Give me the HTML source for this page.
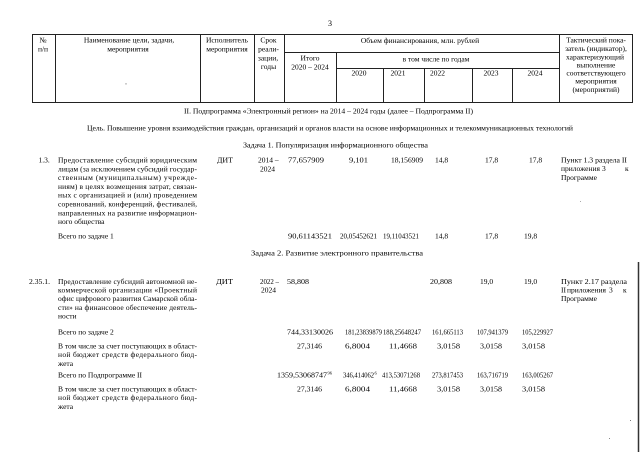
<!DOCTYPE html>
<html>
<head>
<meta charset="utf-8">
<style>
  html, body { margin:0; padding:0; background:#fff; }
  svg { display:block; }
  text { font-family: "Liberation Serif", "Noto Serif CJK SC", serif; }
</style>
</head>
<body>
<svg width="640" height="452" viewBox="0 0 640 452" xmlns="http://www.w3.org/2000/svg" font-size="7.5" fill="#000">
  <rect x="0" y="0" width="640" height="452" fill="#fff"/>

  <!-- page number -->
  <text x="330" y="26" font-size="8" text-anchor="middle">3</text>

  <!-- table header grid -->
  <g stroke="#222" stroke-width="1" fill="none" shape-rendering="crispEdges">
    <rect x="32.5" y="34.5" width="600" height="68"/>
    <line x1="55.5" y1="34.5" x2="55.5" y2="102.5"/>
    <line x1="200.5" y1="34.5" x2="200.5" y2="102.5"/>
    <line x1="254.5" y1="34.5" x2="254.5" y2="102.5"/>
    <line x1="284.5" y1="34.5" x2="284.5" y2="102.5"/>
    <line x1="559.5" y1="34.5" x2="559.5" y2="102.5"/>
    <line x1="284.5" y1="52.5" x2="559.5" y2="52.5"/>
    <line x1="336.5" y1="52.5" x2="336.5" y2="102.5"/>
    <line x1="336.5" y1="68.5" x2="559.5" y2="68.5"/>
    <line x1="383.5" y1="68.5" x2="383.5" y2="102.5"/>
    <line x1="424.5" y1="68.5" x2="424.5" y2="102.5"/>
    <line x1="472.5" y1="68.5" x2="472.5" y2="102.5"/>
    <line x1="512.5" y1="68.5" x2="512.5" y2="102.5"/>
  </g>

  <!-- right scan edge line -->
  <line x1="638.5" y1="262" x2="638.5" y2="452" stroke="#333" stroke-width="1.5"/>

  <!-- header text -->
  <g text-anchor="middle">
    <text x="43" y="42.5">№</text>
    <text x="43" y="51.5">п/п</text>

    <text x="129" y="42.5">Наименование цели, задачи,</text>
    <text x="128" y="51.5">мероприятия</text>

    <text x="227" y="42.5">Исполнитель</text>
    <text x="227" y="51.5">мероприятия</text>

    <text x="268.5" y="42.5">Срок</text>
    <text x="268.5" y="51.5">реали-</text>
    <text x="268" y="60.5">зации,</text>
    <text x="268.5" y="69">годы</text>

    <text x="420" y="43">Объем финансирования, млн. рублей</text>
    <text x="310" y="60.5">Итого</text>
    <text x="310" y="69.5">2020 – 2024</text>
    <text x="436" y="61.5">в том числе по годам</text>

    <text x="359" y="75.5">2020</text>
    <text x="398" y="75.5">2021</text>
    <text x="437.5" y="75.5">2022</text>
    <text x="491" y="75.5">2023</text>
    <text x="535" y="75.5">2024</text>

    <text x="596" y="42.5">Тактический пока-</text>
    <text x="596" y="51.2">затель (индикатор),</text>
    <text x="595" y="59.5">характеризующий</text>
    <text x="596" y="67.5">выполнение</text>
    <text x="596" y="75.5">соответствующего</text>
    <text x="596" y="83.5">мероприятия</text>
    <text x="596" y="92">(мероприятий)</text>
  </g>
  <rect x="125" y="83.5" width="2" height="0.8" fill="#999"/>

  <!-- section titles -->
  <text x="184" y="113.5" textLength="289" lengthAdjust="spacingAndGlyphs">II. Подпрограмма «Электронный регион» на 2014 – 2024 годы (далее – Подпрограмма II)</text>
  <text x="87" y="130.5" textLength="486" lengthAdjust="spacingAndGlyphs">Цель. Повышение уровня взаимодействия граждан, организаций и органов власти на основе информационных и телекоммуникационных технологий</text>
  <text x="243" y="147.5" textLength="185" lengthAdjust="spacingAndGlyphs">Задача 1. Популяризация информационного общества</text>

  <!-- row 1.3 -->
  <text x="38.5" y="162.5">1.3.</text>
  <text x="58" y="162.5" textLength="139">Предоставление субсидий юридическим</text>
  <text x="58" y="171.3" textLength="139">лицам (за исключением субсидий государ-</text>
  <text x="58" y="180.1" textLength="139">ственным (муниципальным) учрежде-</text>
  <text x="58" y="188.9" textLength="139">ниям) в целях возмещения затрат, связан-</text>
  <text x="58" y="197.7" textLength="139">ных с организацией и (или) проведением</text>
  <text x="58" y="206.5" textLength="139">соревнований, конференций, фестивалей,</text>
  <text x="58" y="215.3" textLength="139">направленных на развитие информацион-</text>
  <text x="58" y="224.1">ного общества</text>

  <text x="217" y="162.5" textLength="16" lengthAdjust="spacingAndGlyphs">ДИТ</text>
  <text x="258" y="162.5">2014 –</text>
  <text x="267.5" y="171.3" text-anchor="middle">2024</text>
  <text x="288" y="162.5" textLength="36" lengthAdjust="spacingAndGlyphs">77,657909</text>
  <text x="349" y="162.5" textLength="19" lengthAdjust="spacingAndGlyphs">9,101</text>
  <text x="391" y="162.5" textLength="32" lengthAdjust="spacingAndGlyphs">18,156909</text>
  <text x="435" y="162.5">14,8</text>
  <text x="485" y="162.5">17,8</text>
  <text x="529" y="162.5">17,8</text>
  <text x="561" y="162.5" textLength="66" lengthAdjust="spacingAndGlyphs">Пункт 1.3 раздела II</text>
  <text x="561" y="171.2">приложения</text>
  <text x="602" y="171.2">3</text>
  <text x="625" y="171.2">к</text>
  <text x="561" y="179.9">Программе</text>
  <rect x="580" y="201" width="1" height="1" fill="#aaa"/>

  <!-- total task 1 -->
  <text x="58" y="238.5">Всего по задаче 1</text>
  <text x="288" y="238.5" textLength="44" lengthAdjust="spacingAndGlyphs">90,61143521</text>
  <text x="340" y="238.5" textLength="37" lengthAdjust="spacingAndGlyphs">20,05452621</text>
  <text x="383" y="238.5" textLength="36" lengthAdjust="spacingAndGlyphs">19,11043521</text>
  <text x="435" y="238.5">14,8</text>
  <text x="485" y="238.5">17,8</text>
  <text x="524" y="238.5">19,8</text>

  <text x="251" y="255.5" textLength="172" lengthAdjust="spacingAndGlyphs">Задача 2. Развитие электронного правительства</text>

  <!-- row 2.35.1 -->
  <text x="29" y="284" textLength="21" lengthAdjust="spacingAndGlyphs">2.35.1.</text>
  <text x="58" y="284" textLength="139">Предоставление субсидий автономной не-</text>
  <text x="58" y="292.6" textLength="139">коммерческой организации «Проектный</text>
  <text x="58" y="301.2" textLength="139">офис цифрового развития Самарской обла-</text>
  <text x="58" y="309.8" textLength="139">сти» на финансовое обеспечение деятель-</text>
  <text x="58" y="318.4">ности</text>

  <text x="216" y="284" textLength="17" lengthAdjust="spacingAndGlyphs">ДИТ</text>
  <text x="260" y="284" textLength="19" lengthAdjust="spacingAndGlyphs">2022 –</text>
  <text x="268.5" y="292.6" text-anchor="middle">2024</text>
  <text x="287" y="284" textLength="22" lengthAdjust="spacingAndGlyphs">58,808</text>
  <text x="430" y="284" textLength="22" lengthAdjust="spacingAndGlyphs">20,808</text>
  <text x="480" y="284">19,0</text>
  <text x="524" y="284">19,0</text>
  <text x="561" y="284" textLength="66" lengthAdjust="spacingAndGlyphs">Пункт 2.17 раздела</text>
  <text x="561" y="292.6">II</text>
  <text x="567" y="292.6">приложения</text>
  <text x="609" y="292.6">3</text>
  <text x="623" y="292.6">к</text>
  <text x="561" y="301.2">Программе</text>

  <!-- total task 2 -->
  <text x="58" y="334.5">Всего по задаче 2</text>
  <text x="287" y="334.5" textLength="46" lengthAdjust="spacingAndGlyphs">744,33130026</text>
  <text x="345" y="334.5" textLength="37" lengthAdjust="spacingAndGlyphs">181,23839879</text>
  <text x="383" y="334.5" textLength="38" lengthAdjust="spacingAndGlyphs">188,25648247</text>
  <text x="432" y="334.5" textLength="31" lengthAdjust="spacingAndGlyphs">161,665113</text>
  <text x="477" y="334.5" textLength="31" lengthAdjust="spacingAndGlyphs">107,941379</text>
  <text x="522" y="334.5" textLength="31" lengthAdjust="spacingAndGlyphs">105,229927</text>

  <text x="58" y="348.5" textLength="139">В том числе за счет поступающих в област-</text>
  <text x="58" y="357.2" textLength="139">ной бюджет средств федерального бюд-</text>
  <text x="58" y="365.9">жета</text>
  <text x="297" y="348.5" textLength="25" lengthAdjust="spacingAndGlyphs">27,3146</text>
  <text x="345" y="348.5" textLength="25" lengthAdjust="spacingAndGlyphs">6,8004</text>
  <text x="389" y="348.5" textLength="28" lengthAdjust="spacingAndGlyphs">11,4668</text>
  <text x="437" y="348.5" textLength="23" lengthAdjust="spacingAndGlyphs">3,0158</text>
  <text x="480" y="348.5" textLength="22" lengthAdjust="spacingAndGlyphs">3,0158</text>
  <text x="522" y="348.5" textLength="23" lengthAdjust="spacingAndGlyphs">3,0158</text>

  <!-- total subprogram -->
  <text x="58" y="377.5">Всего по Подпрограмме II</text>
  <text x="277" y="377.5" textLength="50" lengthAdjust="spacingAndGlyphs">1359,53068747</text>
  <text x="327.5" y="374.5" font-size="4.5">96</text>
  <text x="343" y="377.5" textLength="31" lengthAdjust="spacingAndGlyphs">346,414062</text>
  <text x="374.5" y="374.5" font-size="4.5">6</text>
  <text x="382" y="377.5" textLength="38" lengthAdjust="spacingAndGlyphs">413,53071268</text>
  <text x="432" y="377.5" textLength="31" lengthAdjust="spacingAndGlyphs">273,817453</text>
  <text x="477" y="377.5" textLength="31" lengthAdjust="spacingAndGlyphs">163,716719</text>
  <text x="522" y="377.5" textLength="31" lengthAdjust="spacingAndGlyphs">163,005267</text>

  <text x="58" y="391.5" textLength="139">В том числе за счет поступающих в област-</text>
  <text x="58" y="400.2" textLength="139">ной бюджет средств федерального бюд-</text>
  <text x="58" y="408.9">жета</text>
  <text x="297" y="391.5" textLength="25" lengthAdjust="spacingAndGlyphs">27,3146</text>
  <text x="345" y="391.5" textLength="25" lengthAdjust="spacingAndGlyphs">6,8004</text>
  <text x="389" y="391.5" textLength="28" lengthAdjust="spacingAndGlyphs">11,4668</text>
  <text x="437" y="391.5" textLength="23" lengthAdjust="spacingAndGlyphs">3,0158</text>
  <text x="480" y="391.5" textLength="22" lengthAdjust="spacingAndGlyphs">3,0158</text>
  <text x="522" y="391.5" textLength="23" lengthAdjust="spacingAndGlyphs">3,0158</text>

  <!-- scan specks -->
  <rect x="630" y="420" width="1" height="1" fill="#777"/>
  <rect x="609" y="438" width="1" height="1" fill="#888"/>
</svg>
</body>
</html>
